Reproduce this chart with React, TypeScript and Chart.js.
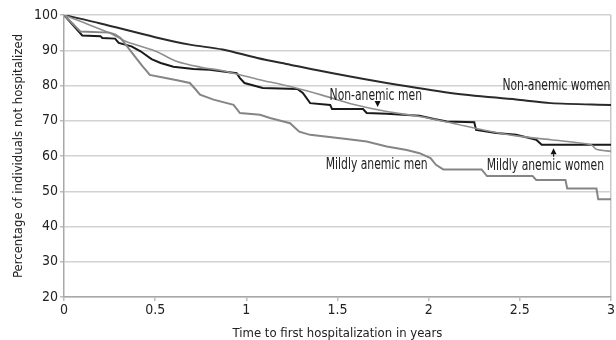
import React, { useEffect, useRef } from "react";
import { Chart, registerables } from "chart.js";

Chart.register(...registerables);

// Time (years) and percentage not hospitalized
const nonAnemicWomenX = [0, 0.2, 0.5, 0.69, 0.87, 1.06, 1.24, 1.46, 1.77, 2.12, 2.48, 2.67, 3];
const nonAnemicWomenY = [100, 97.6, 93.7, 91.6, 90.2, 87.8, 85.9, 83.6, 80.7, 77.9, 76, 75, 74.5];

const nonAnemicMenX = [0, 0.09, 0.25, 0.34, 0.5, 0.62, 0.75, 0.87, 1.06, 1.24, 1.42, 1.59, 1.77, 1.95, 2.13, 2.3, 2.48, 2.67, 2.89, 2.92, 3];
const nonAnemicMenY = [100, 98.2, 94.9, 92.5, 89.8, 86.8, 85.2, 84.2, 81.8, 79.7, 77.2, 74.6, 72.6, 71.2, 69.3, 67.4, 65.7, 64.6, 63.2, 61.9, 61.3];

const mildlyAnemicWomenX = [0, 0.1, 0.2, 0.21, 0.28, 0.3, 0.37, 0.42, 0.48, 0.53, 0.6, 0.71, 0.8, 0.947, 0.965, 0.99, 1.09, 1.28, 1.31, 1.35, 1.46, 1.47, 1.64, 1.66, 1.77, 1.95, 2.03, 2.1, 2.25, 2.26, 2.37, 2.48, 2.59, 2.62, 3.0];
const mildlyAnemicWomenY = [100, 94.2, 94, 93.5, 93.3, 92.1, 91.1, 89.7, 87.5, 86.4, 85.3, 84.7, 84.5, 83.5, 82.1, 80.7, 79.3, 79, 77.9, 75, 74.5, 73.3, 73.3, 72.2, 72, 71.4, 70.5, 69.8, 69.6, 67.4, 66.5, 66, 64.6, 63.2, 63.2];

const mildlyAnemicMenX = [0, 0.09, 0.25, 0.28, 0.31, 0.34, 0.37, 0.4, 0.43, 0.455, 0.47, 0.55, 0.62, 0.69, 0.72, 0.746, 0.82, 0.93, 0.965, 1.075, 1.13, 1.24, 1.29, 1.35, 1.55, 1.66, 1.77, 1.88, 1.95, 2.01, 2.04, 2.08, 2.29, 2.32, 2.57, 2.59, 2.75, 2.76, 2.92, 2.93, 3];
const mildlyAnemicMenY = [100, 95.3, 95, 94.5, 93.5, 91.5, 89.5, 87.5, 85.5, 84, 83, 82.2, 81.5, 80.7, 79, 77.4, 76, 74.5, 72.2, 71.7, 70.8, 69.3, 66.9, 66, 64.8, 64.1, 62.7, 61.7, 60.8, 59.4, 57.5, 56.2, 56.2, 54.3, 54.3, 53.2, 53.2, 50.8, 50.8, 47.7, 47.7];

// Annotation labels (data coordinates)
const labelTexts = ["Non-anemic women", "Non-anemic men", "Mildly anemic men", "Mildly anemic women"];
const labelX = [2.7, 1.71, 1.715, 2.64];
const labelY = [79.7, 77.1, 57.5, 57.2];

// Arrows: x, base value, tip value
const arrowX = [1.72, 2.685];
const arrowBase = [75.6, 59.8];
const arrowTip = [73.9, 62.2];

const FONT = "'DejaVu Sans Condensed', 'DejaVu Sans', sans-serif";

const toPoints = (xs: number[], ys: number[]) => xs.map((x, i) => ({ x, y: ys[i] }));

const annotationPlugin = {
  id: "annotations",
  afterDatasetsDraw(chart: any) {
    const ctx = chart.ctx;
    const xs = chart.scales.x;
    const ys = chart.scales.y;
    ctx.save();
    ctx.fillStyle = "#222";
    ctx.font = `15px ${FONT}`;
    ctx.textAlign = "center";
    ctx.textBaseline = "middle";
    const sx = 0.8;
    labelTexts.forEach((t, i) => {
      const px = xs.getPixelForValue(labelX[i]);
      const py = ys.getPixelForValue(labelY[i]);
      ctx.save();
      ctx.translate(px, py);
      ctx.scale(sx, 1);
      ctx.fillText(t, 0, 0);
      ctx.restore();
    });
    arrowX.forEach((ax, i) => {
      const px = xs.getPixelForValue(ax);
      const pb = ys.getPixelForValue(arrowBase[i]);
      const pt = ys.getPixelForValue(arrowTip[i]);
      const dir = pt > pb ? 1 : -1;
      const headLen = 6;
      ctx.strokeStyle = "#111";
      ctx.lineWidth = 1.2;
      ctx.beginPath();
      ctx.moveTo(px, pb);
      ctx.lineTo(px, pt - dir * headLen);
      ctx.stroke();
      ctx.fillStyle = "#111";
      ctx.beginPath();
      ctx.moveTo(px, pt);
      ctx.lineTo(px - 3, pt - dir * headLen);
      ctx.lineTo(px + 3, pt - dir * headLen);
      ctx.closePath();
      ctx.fill();
    });
    ctx.restore();
  },
};

export default function App() {
  const canvasRef = useRef<HTMLCanvasElement | null>(null);

  useEffect(() => {
    if (!canvasRef.current) return;
    const chart = new Chart(canvasRef.current, {
      type: "line",
      data: {
        datasets: [
          {
            label: "Mildly anemic men",
            data: toPoints(mildlyAnemicMenX, mildlyAnemicMenY),
            borderColor: "#858585",
            borderWidth: 2,
            pointRadius: 0,
            tension: 0,
          },
          {
            label: "Non-anemic men",
            data: toPoints(nonAnemicMenX, nonAnemicMenY),
            borderColor: "#8f8f8f",
            borderWidth: 1.6,
            pointRadius: 0,
            tension: 0.3,
          },
          {
            label: "Mildly anemic women",
            data: toPoints(mildlyAnemicWomenX, mildlyAnemicWomenY),
            borderColor: "#1a1a1a",
            borderWidth: 2,
            pointRadius: 0,
            tension: 0,
          },
          {
            label: "Non-anemic women",
            data: toPoints(nonAnemicWomenX, nonAnemicWomenY),
            borderColor: "#2a2a2a",
            borderWidth: 2,
            pointRadius: 0,
            tension: 0.3,
          },
        ],
      },
      options: {
        animation: false,
        responsive: false,
        maintainAspectRatio: false,
        layout: { padding: { top: 15, right: 5, left: 0, bottom: 0 } },
        plugins: {
          legend: { display: false },
          tooltip: { enabled: false },
        },
        scales: {
          x: {
            type: "linear",
            min: 0,
            max: 3,
            ticks: {
              stepSize: 0.5,
              color: "#222",
              font: { family: FONT, size: 14 },
              padding: 1,
              maxRotation: 0,
              callback: (v: any) => String(v),
            },
            grid: {
              color: (c: any) => (c.tick && c.tick.value === 3 ? "#c8c8c8" : "rgba(0,0,0,0)"),
              tickColor: "#bdbdbd",
              tickLength: 4,
              lineWidth: 1.5,
            },
            border: { color: "#a8a8a8", width: 1.5 },
            title: {
              display: true,
              text: "Time to first hospitalization in years",
              color: "#222",
              font: { family: FONT, size: 13, lineHeight: 1 },
              padding: { top: 0, bottom: 0 },
            },
            afterFit: (s: any) => {
              s.height = 43;
              s.paddingLeft = 0;
              s.paddingRight = 0;
            },
          },
          y: {
            min: 20,
            max: 100,
            ticks: {
              stepSize: 10,
              color: "#222",
              font: { family: FONT, size: 14 },
              padding: 2,
            },
            grid: {
              color: "#d2d2d2",
              tickColor: "#bdbdbd",
              tickLength: 4,
              lineWidth: 1.5,
            },
            border: { color: "#a8a8a8", width: 1.5 },
            title: {
              display: true,
              text: "Percentage of individuals not hospitalized",
              color: "#222",
              font: { family: FONT, size: 13, lineHeight: 1.2 },
              padding: { top: 11, bottom: 0 },
            },
            afterFit: (s: any) => {
              s.width = 64;
              s.paddingTop = 0;
              s.paddingBottom = 0;
            },
          },
        },
      },
      plugins: [annotationPlugin],
    });
    return () => chart.destroy();
  }, []);

  return (
    <div style={{ position: "fixed", left: 0, top: 0, width: 616, height: 340, background: "#fff" }}>
      <canvas ref={canvasRef} width={616} height={340} style={{ width: 616, height: 340 }} />
    </div>
  );
}
